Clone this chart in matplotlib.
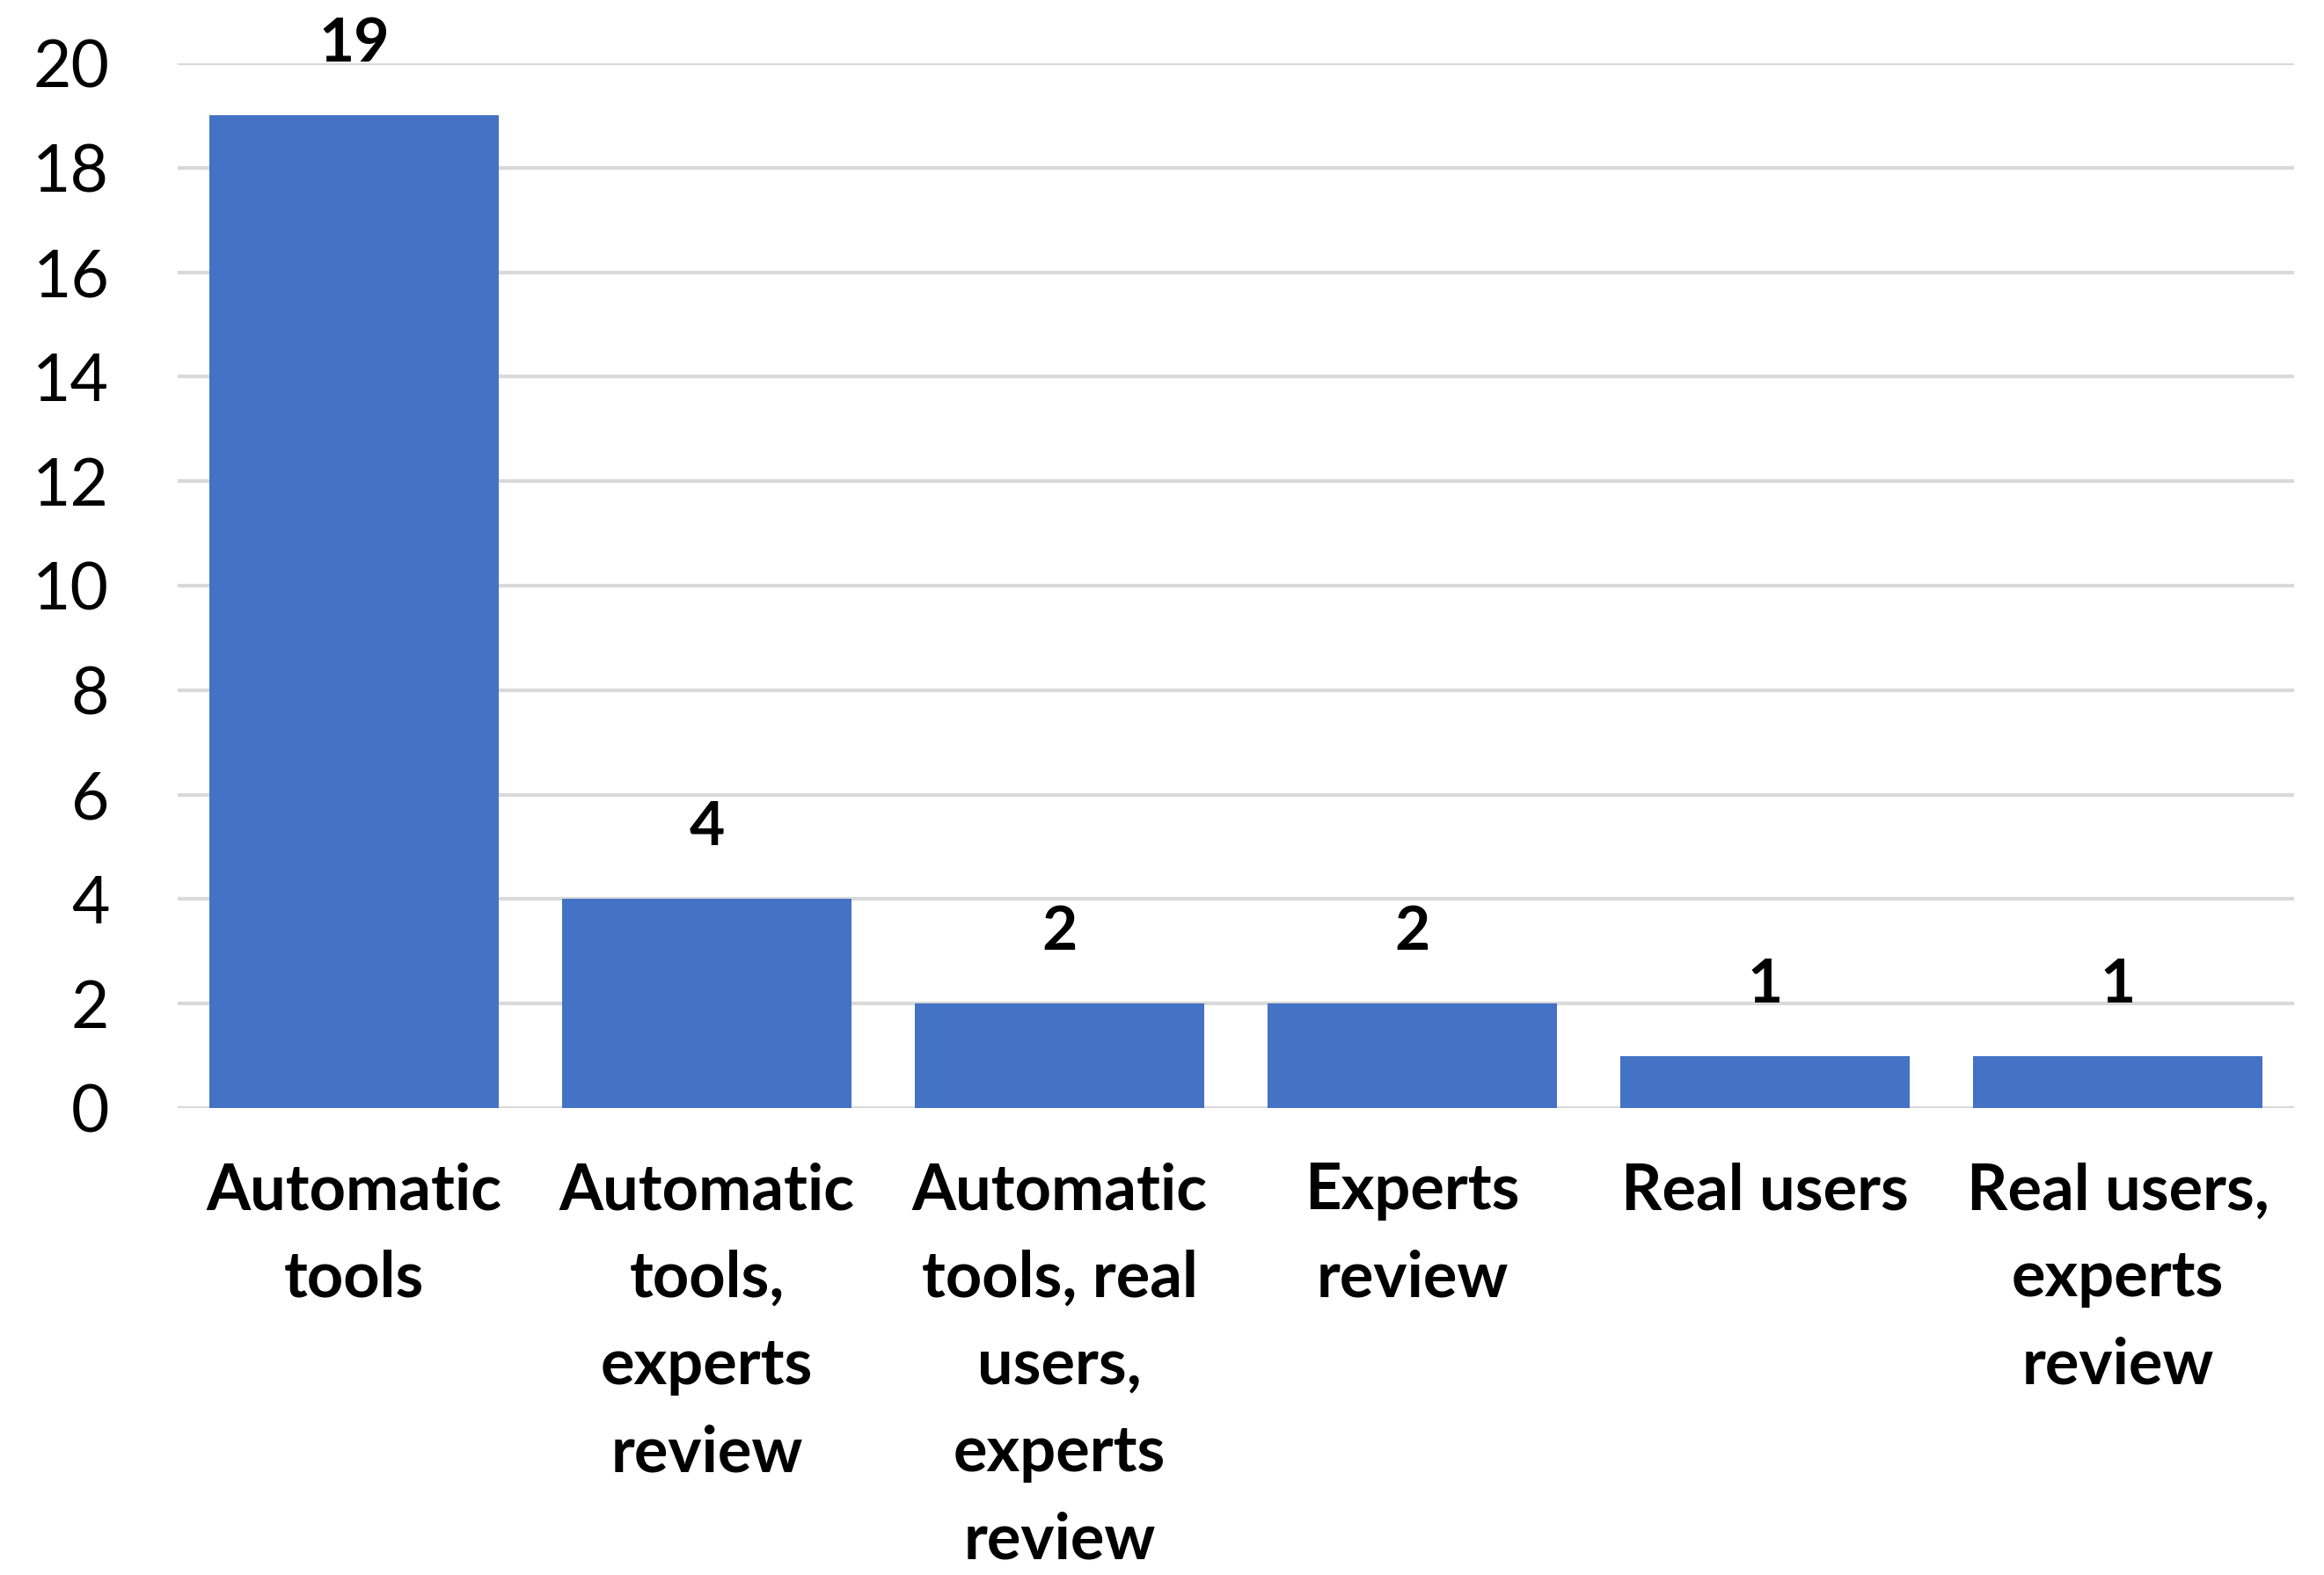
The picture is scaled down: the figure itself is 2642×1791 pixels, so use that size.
import matplotlib
matplotlib.use("Agg")
import matplotlib.pyplot as plt

categories = ["Automatic\ntools", "Automatic\ntools,\nexperts\nreview",
              "Automatic\ntools, real\nusers,\nexperts\nreview", "Experts\nreview",
              "Real users", "Real users,\nexperts\nreview"]
values = [19, 4, 2, 2, 1, 1]
yticks = [0, 2, 4, 6, 8, 10, 12, 14, 16, 18, 20]

plt.rcParams['font.family'] = ['Lato', 'DejaVu Sans']

fig = plt.figure(figsize=(13.21, 8.955), dpi=200)
ax = fig.add_axes([0.0765, 0.2965, 0.9107, 0.6633])
x = list(range(len(categories)))
bars = ax.bar(x, values, width=0.82, color="#4472C4", zorder=3)
ax.set_xlim(-0.5, len(categories) - 0.5)
ax.set_ylim(0, 20)
ax.set_yticks(yticks)
ax.set_yticklabels([str(t) for t in yticks], fontsize=27)
ax.set_xticks(x)
ax.set_xticklabels(categories, fontsize=26, fontweight='bold', linespacing=1.6, va='top')
ax.tick_params(axis='y', length=0, pad=28)
ax.tick_params(axis='x', length=0, pad=22)
ax.grid(axis='y', color='#d9d9d9', linewidth=1.5, zorder=0)
for s in ax.spines.values():
    s.set_visible(False)
for xi, v in zip(x, values):
    ax.annotate(str(v), (xi, v), xytext=(0, 29), textcoords='offset points',
                ha='center', va='center', fontsize=25, fontweight='bold')
fig.savefig("out.png", dpi=200)
